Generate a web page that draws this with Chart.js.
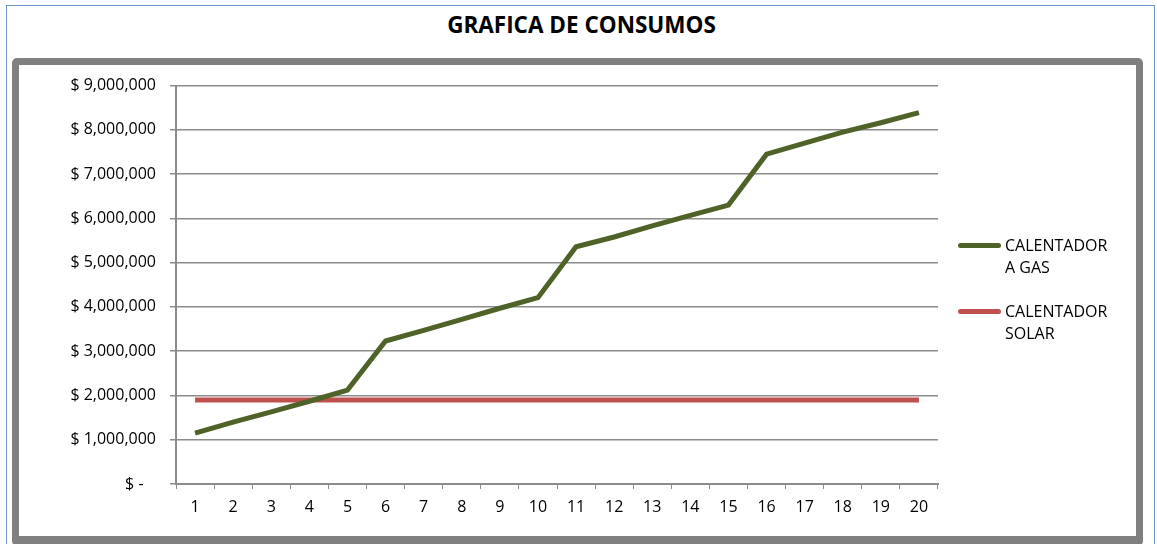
<!DOCTYPE html>
<html lang="es">
    <head>
        <meta charset="UTF-8">
        <title>Grafica de consumos</title>
        <script src="https://cdn.jsdelivr.net/npm/chart.js@4.4.1/dist/chart.umd.min.js"></script>
        <style>
            body {
                margin: 0;
                background: #ffffff;
                font-family: "Open Sans", sans-serif;
                overflow: hidden;
            }
            .marco {
                position: absolute;
                left: 6px;
                top: 5px;
                width: 1147px;
                height: 545px;
                border: 1.5px solid #6f96c8;
                border-bottom: none;
            }
            .titulo {
                position: absolute;
                left: 0;
                top: 9px;
                width: 1163px;
                text-align: center;
                font-weight: bold;
                font-size: 22.5px;
                color: #000;
            }
            .caja {
                position: absolute;
                left: 12px;
                top: 58px;
                width: 1117px;
                height: 471px;
                border: 7px solid #808080;
                border-bottom-width: 10px;
                border-radius: 5px;
                background: #fff;
            }
            canvas {
                position: absolute;
                left: 0;
                top: -3px;
            }
            .leyenda {
                position: absolute;
                left: 939px;
                top: 169px;
                font-size: 16px;
                line-height: 22px;
                color: #000;
            }
            .item {
                position: relative;
                padding-left: 47px;
                margin-bottom: 22px;
            }
            .muestra {
                position: absolute;
                left: 0;
                top: 9px;
                width: 43px;
                height: 5px;
                border-radius: 3px;
            }
        </style>
    </head>
    <body>
        <div class="marco"></div>
        <div class="titulo">GRAFICA DE CONSUMOS</div>
        <div class="caja">
            <canvas id="graficaConsumos" width="1117" height="474"></canvas>
            <div class="leyenda" id="leyenda"></div>
        </div>
        <script>
            // datos
            const periodos = ["1", "2", "3", "4", "5", "6", "7", "8", "9", "10",
                              "11", "12", "13", "14", "15", "16", "17", "18", "19", "20"];
            const calentadorGas = [1150000, 1400000, 1630000, 1870000, 2120000,
                                   3230000, 3470000, 3720000, 3970000, 4210000,
                                   5360000, 5580000, 5830000, 6070000, 6300000,
                                   7450000, 7700000, 7950000, 8160000, 8390000];
            const calentadorSolar = [1900000, 1900000, 1900000, 1900000, 1900000,
                                     1900000, 1900000, 1900000, 1900000, 1900000,
                                     1900000, 1900000, 1900000, 1900000, 1900000,
                                     1900000, 1900000, 1900000, 1900000, 1900000];
            const etiquetasSeries = [["CALENTADOR", "A GAS"], ["CALENTADOR", "SOLAR"]];

            const verde = "#4f6228";
            const rojo = "#c0504d";
            const gris = "#8c8c8c";

            function formatoPesos(v) {
                if (v === 0) return "$ -   ";
                return "$ " + v.toLocaleString("en-US");
            }

            var ctx = document.getElementById("graficaConsumos").getContext("2d");
            const config = {
                type: "line",
                data: {
                    labels: periodos,
                    datasets: [
                        {
                            label: etiquetasSeries[0].join(" "),
                            data: calentadorGas,
                            borderColor: verde,
                            borderWidth: 5,
                            pointRadius: 0,
                            fill: false,
                            tension: 0
                        },
                        {
                            label: etiquetasSeries[1].join(" "),
                            data: calentadorSolar,
                            borderColor: rojo,
                            borderWidth: 5,
                            pointRadius: 0,
                            fill: false,
                            tension: 0
                        }
                    ]
                },
                options: {
                    responsive: false,
                    animation: false,
                    layout: {
                        padding: { top: 17, right: 198, left: 0, bottom: 0 }
                    },
                    plugins: {
                        legend: { display: false },
                        tooltip: { enabled: false }
                    },
                    scales: {
                        x: {
                            offset: true,
                            grid: {
                                offset: true,
                                drawOnChartArea: false,
                                drawTicks: true,
                                tickLength: 5,
                                color: gris
                            },
                            border: { color: gris, width: 2 },
                            ticks: {
                                color: "#000",
                                padding: 9,
                                font: { family: "Open Sans", size: 16 }
                            },
                            afterFit: function (scale) { scale.height = 52; }
                        },
                        y: {
                            min: 0,
                            max: 9000000,
                            grid: {
                                color: gris,
                                lineWidth: 1.5,
                                tickLength: 6
                            },
                            border: { color: gris, width: 2 },
                            ticks: {
                                stepSize: 1000000,
                                color: "#000",
                                padding: 14,
                                font: { family: "Open Sans", size: 16 },
                                callback: function (v) { return formatoPesos(v); }
                            },
                            afterFit: function (scale) { scale.width = 157; }
                        }
                    }
                }
            };
            const grafica = new Chart(ctx, config);

            // leyenda con etiquetas en dos lineas
            const leyenda = document.getElementById("leyenda");
            grafica.data.datasets.forEach(function (ds, i) {
                const item = document.createElement("div");
                item.className = "item";
                item.innerHTML = '<span class="muestra" style="background:' + ds.borderColor + '"></span>' +
                    etiquetasSeries[i].join("<br>");
                leyenda.appendChild(item);
            });
        </script>
    </body>
</html>
